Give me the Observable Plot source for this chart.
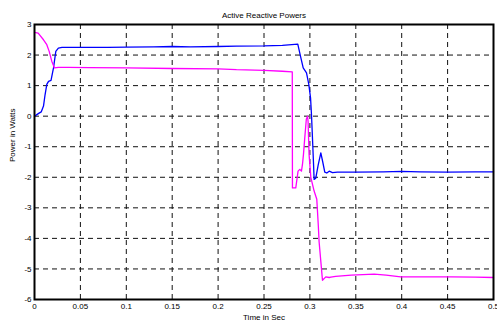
<!DOCTYPE html>
<html><head><meta charset="utf-8">
<script src="https://cdn.jsdelivr.net/npm/d3@7"></script>
<script src="https://cdn.jsdelivr.net/npm/@observablehq/plot@0.6"></script>
<style>body{margin:0;background:#fff;}</style>
</head><body><div id="chart"></div>
<script>
const title = "Active Reactive Powers";
const xLabel = "Time in Sec";
const yLabel = "Power in Watts";
const xTicks = [0, 0.05, 0.1, 0.15, 0.2, 0.25, 0.3, 0.35, 0.4, 0.45, 0.5];
const yTicks = [-6, -5, -4, -3, -2, -1, 0, 1, 2, 3];

const activeT = [0, 0.0025, 0.005, 0.0073, 0.0098, 0.0115, 0.0134, 0.0153, 0.018, 0.0207, 0.0232, 0.026, 0.03, 0.05, 0.08, 0.1, 0.13, 0.15, 0.17, 0.2, 0.22, 0.25, 0.27, 0.2868, 0.2898, 0.2927, 0.2963, 0.2988, 0.3007, 0.3017, 0.3025, 0.304, 0.3046, 0.3064, 0.309, 0.3119, 0.314, 0.3162, 0.3184, 0.321, 0.3246, 0.33, 0.35, 0.38, 0.4, 0.42, 0.45, 0.48, 0.5];
const activeP = [0, 0.05, 0.1, 0.14, 0.33, 0.7, 1.04, 1.14, 1.17, 1.58, 2.12, 2.23, 2.25, 2.25, 2.25, 2.26, 2.27, 2.28, 2.27, 2.28, 2.29, 2.3, 2.32, 2.36, 1.96, 1.58, 1.42, 1.04, 0.6, 0.06, -0.5, -1.6, -2.07, -2.03, -1.6, -1.2, -1.5, -1.83, -1.86, -1.8, -1.85, -1.83, -1.83, -1.82, -1.81, -1.82, -1.83, -1.82, -1.82];

const reactiveT = [0, 0.004, 0.0098, 0.0134, 0.016, 0.0188, 0.0218, 0.026, 0.037, 0.06, 0.1, 0.15, 0.2, 0.22, 0.25, 0.27, 0.2808, 0.281, 0.2846, 0.2871, 0.289, 0.2908, 0.2919, 0.293, 0.2944, 0.2961, 0.2974, 0.298, 0.2991, 0.301, 0.3046, 0.3075, 0.3092, 0.31, 0.3137, 0.3173, 0.321, 0.3228, 0.328, 0.345, 0.37, 0.383, 0.399, 0.42, 0.4537, 0.48, 0.5];
const reactiveQ = [2.74, 2.72, 2.5, 2.34, 2.12, 1.8, 1.58, 1.6, 1.6, 1.59, 1.58, 1.56, 1.55, 1.52, 1.5, 1.47, 1.45, -2.35, -2.35, -1.8, -1.74, -1.8, -1.58, -1.25, -0.71, -0.1, 0.0, -0.16, -1.25, -2.0, -2.45, -2.72, -3.6, -4.1, -5.37, -5.26, -5.28, -5.27, -5.24, -5.2, -5.17, -5.2, -5.26, -5.26, -5.26, -5.27, -5.28];

const active = activeT.map((t, i) => ({t, v: activeP[i]}));
const reactive = reactiveT.map((t, i) => ({t, v: reactiveQ[i]}));

const plot = Plot.plot({
  width: 497, height: 327,
  marginLeft: 34, marginRight: 4, marginTop: 24, marginBottom: 28,
  style: {fontFamily: "'Liberation Sans', Arial, sans-serif", fontSize: "8px", background: "#fff", color: "#000"},
  x: {domain: [0, 0.5]},
  y: {domain: [-6, 3]},
  marks: [
    Plot.ruleX(xTicks.slice(1, -1), {stroke: "#111", strokeWidth: 1, strokeDasharray: "5,4"}),
    Plot.ruleY(yTicks.slice(1, -1), {stroke: "#111", strokeWidth: 1, strokeDasharray: "5,4"}),
    Plot.line(active, {x: "t", y: "v", stroke: "#0000ff", strokeWidth: 1.3}),
    Plot.line(reactive, {x: "t", y: "v", stroke: "#ff00ff", strokeWidth: 1.3}),
    Plot.frame({stroke: "#000", strokeWidth: 2}),
    Plot.axisX({ticks: xTicks, tickSize: 0, tickPadding: 4, label: null, tickFormat: d => String(d)}),
    Plot.axisY({ticks: yTicks, tickSize: 0, tickPadding: 3, label: null, tickFormat: d => String(d)}),
    Plot.text([title], {frameAnchor: "top", dy: -12, fontSize: 8}),
    Plot.text([xLabel], {frameAnchor: "bottom", dy: 20, fontSize: 8}),
    Plot.text([yLabel], {frameAnchor: "left", dx: -22, rotate: -90, fontSize: 8})
  ]
});
document.getElementById("chart").append(plot);
</script>
</body></html>
